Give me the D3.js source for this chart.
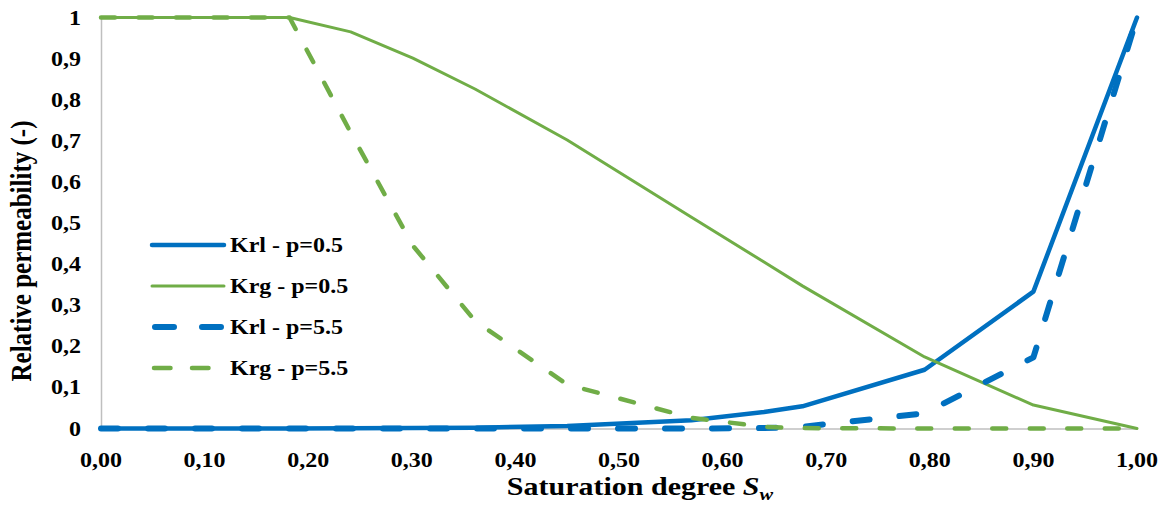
<!DOCTYPE html>
<html>
<head>
<meta charset="utf-8">
<script src="https://cdn.jsdelivr.net/npm/d3@7"></script>
<style>
html,body{margin:0;padding:0;background:#fff;}
svg{display:block;}
text{font-family:"Liberation Serif","Times New Roman",serif;font-weight:bold;fill:#000;}
</style>
</head>
<body>
<svg id="chart" width="1163" height="506"></svg>
<script>
// ---- data ----
const sw      = [0, 0.182, 0.241, 0.301, 0.361, 0.450, 0.570, 0.640, 0.677, 0.795, 0.900, 1.000];
const krl05   = [0, 0.0002, 0.0005, 0.001, 0.002, 0.006, 0.020, 0.040, 0.054, 0.143, 0.333, 1.000];
const krg05   = [1, 1, 0.965, 0.901, 0.826, 0.702, 0.514, 0.405, 0.347, 0.174, 0.057, 0];
const krl55   = [0, 0, 0, 0, 0, 0, 0, 0.001, 0.004, 0.037, 0.173, 1.000];
const krg55   = [1, 1, 0.720, 0.445, 0.262, 0.107, 0.026, 0.004, 0.001, 0, 0, 0];
const seriesNames = ["Krl - p=0.5", "Krg - p=0.5", "Krl - p=5.5", "Krg - p=5.5"];
const xTicks = [0, 0.1, 0.2, 0.3, 0.4, 0.5, 0.6, 0.7, 0.8, 0.9, 1.0];
const yTicks = [0, 0.1, 0.2, 0.3, 0.4, 0.5, 0.6, 0.7, 0.8, 0.9, 1.0];
const xTitle = "Saturation degree ";
const yTitle = "Relative permeability (-)";

// ---- styles ----
const BLUE = "#0070C0", GREEN = "#70AD47";
const styles = [
  {color: BLUE,  width: 4.5, dash: null,      legX: [152, 224], legDash: null},
  {color: GREEN, width: 3,   dash: null,      legX: [152, 224], legDash: null},
  {color: BLUE,  width: 6,   dash: "17,30",   legX: [155, 221], legDash: "19,28"},
  {color: GREEN, width: 4.5, dash: "14,23.5", legX: [154, 208.5], legDash: "16.5,21.5"}
];
const SX = 1.2; // horizontal text stretch seen in the reference

const svg = d3.select("#chart");
const x = d3.scaleLinear().domain([0, 1]).range([101, 1137]);
const y = d3.scaleLinear().domain([0, 1]).range([428.5, 17.5]);

function stretchedText(g, px, py, str, size, anchor) {
  return g.append("text")
    .attr("transform", `translate(${px},${py}) scale(${SX},1)`)
    .attr("text-anchor", anchor)
    .style("font-size", size + "px")
    .text(str);
}

// axes lines (no tick marks)
const xAxis = d3.axisBottom(x).tickValues(xTicks).tickSize(0).tickFormat("");
const yAxis = d3.axisLeft(y).tickValues(yTicks).tickSize(0).tickFormat("");
svg.append("g").attr("transform", `translate(0,${y(0)})`).call(xAxis)
  .call(g => g.select(".domain").attr("stroke", "#bfbfbf").attr("stroke-width", 1.5));
svg.append("g").attr("transform", `translate(${x(0)},0)`).call(yAxis)
  .call(g => g.select(".domain").attr("stroke", "#bfbfbf").attr("stroke-width", 1.5));

// tick labels
const fmtX = d => d3.format(".2f")(d).replace(".", ",");
const fmtY = d => (d === 0 ? "0" : d === 1 ? "1" : d3.format(".1f")(d).replace(".", ","));
const tl = svg.append("g");
xTicks.forEach(t => stretchedText(tl, x(t), 467, fmtX(t), 20, "middle"));
yTicks.forEach(t => stretchedText(tl, 81, y(t) + 7, fmtY(t), 20, "end"));

// series lines
const allSeries = [krl05, krg05, krl55, krg55];
const line = d3.line().x(d => x(d[0])).y(d => y(d[1]));
allSeries.forEach((vals, i) => {
  const pts = sw.map((s, j) => [s, vals[j]]);
  const st = styles[i];
  svg.append("path").datum(pts)
    .attr("d", line)
    .attr("fill", "none")
    .attr("stroke", st.color)
    .attr("stroke-width", st.width)
    .attr("stroke-linejoin", "round")
    .attr("stroke-linecap", "round")
    .attr("stroke-dasharray", st.dash);
});

// legend
const leg = svg.append("g");
const legY = d3.scalePoint().domain(seriesNames).range([245, 368]);
seriesNames.forEach((n, i) => {
  const st = styles[i];
  const yy = legY(n);
  leg.append("line").attr("x1", st.legX[0]).attr("x2", st.legX[1]).attr("y1", yy).attr("y2", yy)
    .attr("stroke", st.color).attr("stroke-width", st.width)
    .attr("stroke-linecap", "round")
    .attr("stroke-dasharray", st.legDash);
  stretchedText(leg, 230, yy + 7, n, 20, "start");
});

// axis titles
const xt = svg.append("text")
  .attr("transform", `translate(640,495) scale(${SX},1)`)
  .attr("text-anchor", "middle")
  .style("font-size", "25px");
xt.append("tspan").text(xTitle);
xt.append("tspan").style("font-style", "italic").text("S");
xt.append("tspan").style("font-style", "italic").style("font-size", "17px").attr("dy", 5).text("w");

svg.append("text")
  .attr("transform", `translate(31,251) scale(${SX},1) rotate(-90)`)
  .attr("text-anchor", "middle")
  .style("font-size", "25px")
  .text(yTitle);
</script>
</body>
</html>
